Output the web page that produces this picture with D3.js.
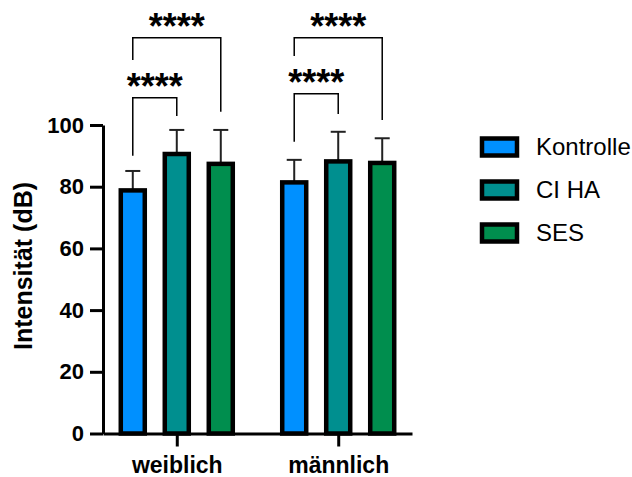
<!DOCTYPE html>
<html>
<head>
<meta charset="utf-8">
<script src="https://cdn.jsdelivr.net/npm/d3@7"></script>
<style>
html,body{margin:0;padding:0;background:#fff;}
svg{display:block;font-family:"Liberation Sans",Arial,sans-serif;}
</style>
</head>
<body>
<svg id="chart" width="632" height="477"></svg>
<script>
// ---- data ----
const categories = ["weiblich", "männlich"];
const seriesNames = ["Kontrolle", "CI HA", "SES"];
const means = {
  "Kontrolle": [78.8, 81.4],
  "CI HA":     [90.6, 88.2],
  "SES":       [87.4, 87.7]
};
const sds = {
  "Kontrolle": [6.3, 7.3],
  "CI HA":     [7.8, 9.6],
  "SES":       [11.0, 8.0]
};
const yTicks = [0, 20, 40, 60, 80, 100];
const yLabel = "Intensität (dB)";
// significance comparisons: group, from, to, bracket level, left leg end, right leg end (data units)
const comparisons = [
  {group: "weiblich", from: "Kontrolle", to: "CI HA", level: 108.8, leftEnd: 90.0, rightEnd: 102.9, label: "****"},
  {group: "weiblich", from: "Kontrolle", to: "SES",   level: 128.3, leftEnd: 121.1, rightEnd: 104.3, label: "****"},
  {group: "männlich", from: "Kontrolle", to: "CI HA", level: 110.1, leftEnd: 94.6, rightEnd: 103.6, label: "****"},
  {group: "männlich", from: "Kontrolle", to: "SES",   level: 128.3, leftEnd: 122.4, rightEnd: 101.6, label: "****"}
];
const colors = ["#0090FF", "#008F8F", "#008E4E"];

// ---- layout ----
const svg = d3.select("#chart");
const x0 = 103, x1 = 412, yTop = 125, yBottom = 433.5;

const x = d3.scalePoint().domain(categories).range([x0, x1]).padding(0.457);
const xs = d3.scalePoint().domain(seriesNames).range([-44, 44]);
const y = d3.scaleLinear().domain([0, 100]).range([yBottom, yTop]);
const color = d3.scaleOrdinal().domain(seriesNames).range(colors);
const barW = 24;

// bars
const bars = [];
seriesNames.forEach(s => categories.forEach((c, i) => bars.push({s, c, v: means[s][i], sd: sds[s][i]})));

const g = svg.append("g");
g.selectAll("line.err").data(bars).join("line")
  .attr("x1", d => x(d.c) + xs(d.s)).attr("x2", d => x(d.c) + xs(d.s))
  .attr("y1", d => y(d.v)).attr("y2", d => y(d.v + d.sd))
  .attr("stroke", "#222").attr("stroke-width", 2);
g.selectAll("line.cap").data(bars).join("line")
  .attr("x1", d => x(d.c) + xs(d.s) - 7.5).attr("x2", d => x(d.c) + xs(d.s) + 7.5)
  .attr("y1", d => y(d.v + d.sd)).attr("y2", d => y(d.v + d.sd))
  .attr("stroke", "#222").attr("stroke-width", 2);
g.selectAll("rect.bar").data(bars).join("rect")
  .attr("x", d => x(d.c) + xs(d.s) - barW / 2)
  .attr("width", barW)
  .attr("y", d => y(d.v))
  .attr("height", d => y(0) - y(d.v))
  .attr("fill", d => color(d.s))
  .attr("stroke", "#000").attr("stroke-width", 4.5);

// axes
const yAxis = d3.axisLeft(y).tickValues(yTicks).tickSize(13).tickSizeOuter(0).tickPadding(6);
const ya = svg.append("g").attr("transform", `translate(${x0},0)`).call(yAxis);
ya.select(".domain").attr("stroke-width", 3).attr("stroke", "#000");
ya.selectAll(".tick line").attr("stroke-width", 3).attr("stroke", "#000");
ya.selectAll(".tick text").attr("font-size", 22).attr("font-weight", "bold").attr("fill", "#000")
  .attr("font-family", "Liberation Sans, Arial, sans-serif");

const xAxis = d3.axisBottom(x).tickSize(13).tickSizeOuter(0).tickPadding(10);
const xa = svg.append("g").attr("transform", `translate(0,${yBottom})`).call(xAxis);
xa.select(".domain").attr("stroke-width", 3).attr("stroke", "#000");
xa.selectAll(".tick line").attr("stroke-width", 3).attr("stroke", "#000");
xa.selectAll(".tick text").attr("font-size", 23).attr("font-weight", "bold").attr("fill", "#000")
  .attr("font-family", "Liberation Sans, Arial, sans-serif");

// y axis title
svg.append("text")
  .attr("transform", `translate(32,266) rotate(-90)`)
  .attr("text-anchor", "middle")
  .attr("font-size", 25).attr("font-weight", "bold")
  .text(yLabel);

// significance brackets
const br = svg.append("g");
comparisons.forEach(cmp => {
  const xl = x(cmp.group) + xs(cmp.from);
  const xr = x(cmp.group) + xs(cmp.to);
  const yl = y(cmp.level);
  br.append("path")
    .attr("d", `M${xl},${y(cmp.leftEnd)}V${yl}H${xr}V${y(cmp.rightEnd)}`)
    .attr("fill", "none").attr("stroke", "#000").attr("stroke-width", 1.5);
  br.append("text")
    .attr("x", (xl + xr) / 2).attr("y", yl - 20 + 0.58 * 36)
    .attr("text-anchor", "middle")
    .attr("font-size", 36).attr("font-weight", "bold")
    .text(cmp.label);
});

// legend
const leg = svg.append("g");
seriesNames.forEach((s, i) => {
  const cy = 147 + i * 43;
  leg.append("rect").attr("x", 482).attr("y", cy - 8.5).attr("width", 35).attr("height", 17)
    .attr("fill", color(s)).attr("stroke", "#000").attr("stroke-width", 4.5);
  leg.append("text").attr("x", 536).attr("y", cy).attr("dy", "0.35em")
    .attr("font-size", 24).text(s);
});
</script>
</body>
</html>
